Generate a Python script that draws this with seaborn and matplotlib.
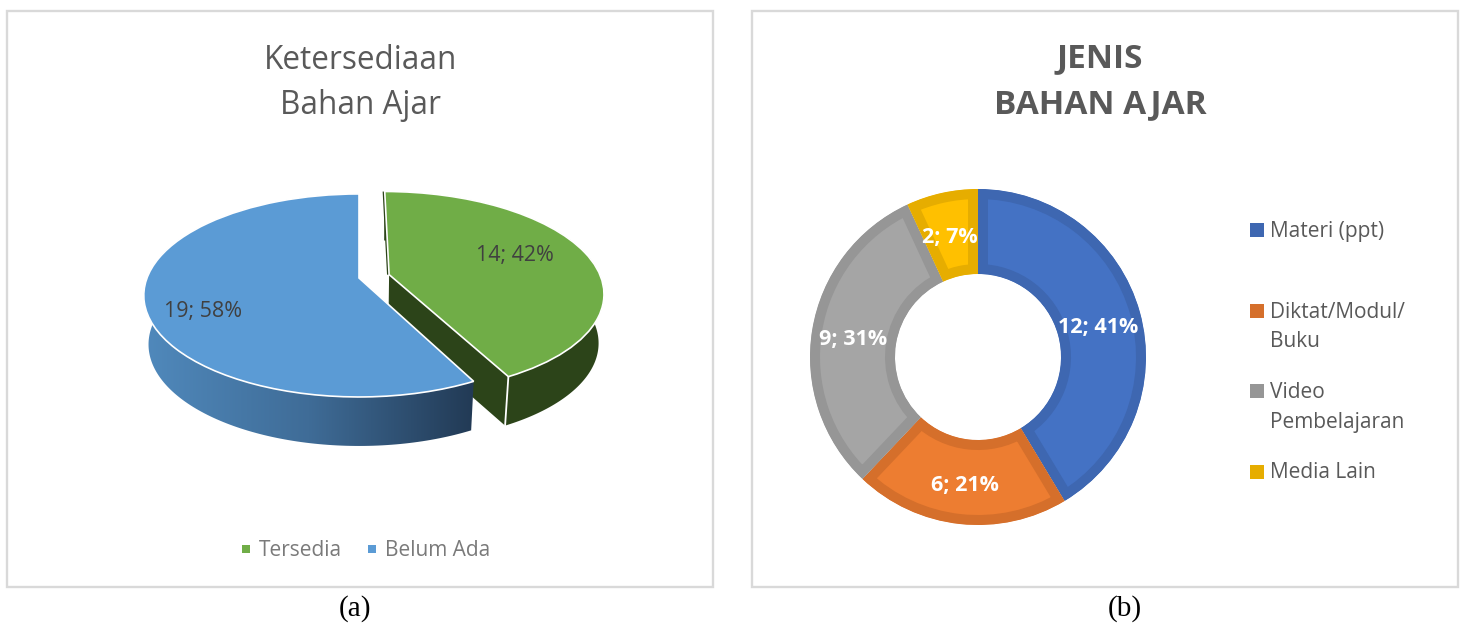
import numpy as np
import seaborn as sns
import matplotlib.pyplot as plt
from matplotlib.path import Path
from matplotlib.patches import PathPatch, Polygon, Rectangle
from matplotlib.colors import LinearSegmentedColormap

avail_labels = ["Tersedia", "Belum Ada"]
avail_values = [14, 19]
avail_colors = ["#70ad47", "#5b9bd5"]

type_labels = ["Materi (ppt)", "Diktat/Modul/\nBuku", "Video\nPembelajaran", "Media Lain"]
type_values = [12, 6, 9, 2]
type_colors = ["#4472c4", "#ed7d31", "#a5a5a5", "#ffc000"]
type_edges = ["#3e67b1", "#d56f2b", "#969696", "#e6ad00"]

W, H = 1465, 623
FONT = "Open Sans"
TEXT = "#595959"

# perspective of the tilted pie, in pixels
CX, CY, A, B, K = 359, 278, 212, 98.5, 0.172
DEPTH, SHRINK = 49, 0.978

sns.set_theme(style="white")
plt.rcParams["font.family"] = [FONT, "DejaVu Sans"]


def project(u, v):
    den = 1 + K * np.asarray(v)
    return CX + A * np.asarray(u) / den, CY - B * np.asarray(v) / den


def lower(x, y):
    return CX + (x - CX) * SHRINK, y + DEPTH


def arc_points(wedge):
    t = np.radians(np.linspace(wedge.theta1, wedge.theta2, 200))
    return project(wedge.center[0] + np.cos(t), wedge.center[1] + np.sin(t))


def label_text(value, values):
    return f"{value}; {round(100 * value / sum(values))}%"


fig = plt.figure(figsize=(W / 100, H / 100), dpi=100, facecolor="white")
ax = fig.add_axes([0, 0, 1, 1])

# left pie, flat wedges first, redrawn through the perspective afterwards
wedges, _ = ax.pie(
    avail_values,
    colors=sns.color_palette(avail_colors),
    startangle=90,
    counterclock=False,
    explode=[0.147, 0],
)
green, blue = wedges
for w in wedges:
    w.set_visible(False)

# green sides, the arc runs from the front tip to the back
gx, gy = arc_points(green)
lx, ly = lower(gx, gy)
dark = "#2c4419"
ax.add_patch(
    Polygon(np.r_[np.c_[gx, gy], np.c_[lx, ly][::-1]], fc=dark, ec="none", zorder=2)
)
ax_, ay_ = project(*green.center)
face = np.array([[ax_, ay_], [gx[0], gy[0]], [lx[0], ly[0]], lower(ax_, ay_)])
ax.add_patch(Polygon(face, fc=dark, ec="none", zorder=2))
ax.plot([gx[0], lx[0]], [gy[0], ly[0]], color="white", lw=1.3, zorder=3)
ax.plot([gx[-1], ax_], [gy[-1], ay_], color=dark, lw=3, zorder=3, solid_capstyle="butt")

# blue side with its gradient
bx, by = arc_points(blue)
lx, ly = lower(bx, by)
side = Polygon(np.r_[np.c_[bx, by], np.c_[lx, ly][::-1]], transform=ax.transData)
cmap = LinearSegmentedColormap.from_list("side", ["#5089bc", "#3f6c97", "#223a55"])
im = ax.imshow(
    np.linspace(0, 1, 256)[None, :],
    extent=(bx.min(), bx.max(), ly.max(), by.min()),
    cmap=cmap,
    aspect="auto",
    zorder=4,
)
im.set_clip_path(side)

# top faces
for w, color, z in zip(wedges, avail_colors, [3.5, 5]):
    p = w.get_path()
    x, y = project(p.vertices[:, 0], p.vertices[:, 1])
    ax.add_patch(
        PathPatch(Path(np.c_[x, y], p.codes), fc=color, ec="white", lw=1.2, zorder=z)
    )

ax.set_aspect("auto")
ax.set_xlim(0, W)
ax.set_ylim(H, 0)
ax.axis("off")

# panel frames
for x0 in [7, 752]:
    ax.add_patch(
        Rectangle((x0, 11), 706, 576, fc="none", ec="#d9d9d9", lw=1.7, zorder=1)
    )

ax.text(361, 83, "Ketersediaan\nBahan Ajar", ha="center", va="center", fontsize=22.7,
        color=TEXT, linespacing=1.49, zorder=6)
ax.text(1100, 81.5, "JENIS\nBAHAN AJAR", ha="center", va="center", fontsize=24,
        fontweight="bold", color=TEXT, linespacing=1.52, zorder=6)

for value, pos in zip(avail_values, [(515, 256), (203, 311)]):
    ax.text(*pos, label_text(value, avail_values), ha="center", va="center",
            fontsize=15.4, color="#404040", zorder=6)

for label, color, sx, tx in zip(avail_labels, avail_colors, [246, 372], [259, 385]):
    ax.add_patch(Rectangle((sx - 4, 545), 8, 8, fc=color, ec="none"))
    ax.text(tx, 551, label, ha="left", va="center", fontsize=15, color="#7a7a7a")

# right legend, one slot per entry
for i, (label, color) in enumerate(zip(type_labels, type_edges)):
    y = 230 + i * 80.5
    ax.add_patch(Rectangle((1250, y - 7), 14, 14, fc=color, ec="none"))
    ax.text(1270, y - 9, label, ha="left", va="top", fontsize=15, color=TEXT,
            linespacing=1.56)

ax.text(355, 609, "(a)", ha="center", va="center", fontsize=21, color="black",
        family="Liberation Serif")
ax.text(1125, 609, "(b)", ha="center", va="center", fontsize=21, color="black",
        family="Liberation Serif")

# donut, the thick edge is clipped to its own wedge so it stays inside
R = 168
ax2 = fig.add_axes([(978 - R) / W, 1 - (357 + R) / H, 2 * R / W, 2 * R / H])
rings, _ = ax2.pie(
    type_values,
    colors=sns.color_palette(type_colors),
    startangle=90,
    counterclock=False,
    radius=1,
    wedgeprops={"width": 1 - 83 / R},
)
for w, edge in zip(rings, type_edges):
    w.set_edgecolor(edge)
    w.set_linewidth(14.4)
    w.set_clip_on(True)
    w.set_clip_path(w)
ax2.set_xlim(-1, 1)
ax2.set_ylim(-1, 1)

for value, pos in zip(type_values, [(1098, 327), (965, 485), (853, 340), (950, 238)]):
    ax.text(*pos, label_text(value, type_values), ha="center", va="center",
            fontsize=15.5, fontweight="bold", color="white", zorder=6,
            transform=ax.transData, clip_on=False)
ax.set_zorder(ax2.get_zorder() + 1)
ax.patch.set_visible(False)

fig.savefig("out.png", dpi=100)
